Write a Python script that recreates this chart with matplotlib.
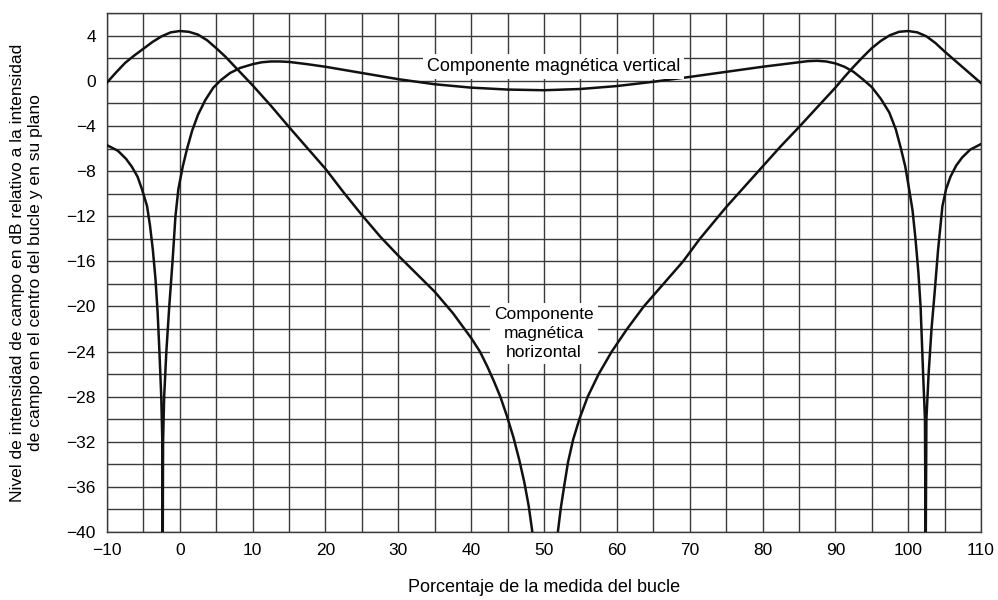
import numpy as np
import matplotlib
matplotlib.use("Agg")
import matplotlib.pyplot as plt

plt.rcParams['font.family'] = ['Liberation Sans', 'DejaVu Sans']

# horizontal magnetic component (dB) vs % of loop size, left lobe
horiz_x = [-10, -8.75, -7.5, -6.25, -5, -3.75, -2.5, -1.25, 0, 1.25, 2.5, 3.75, 5, 6.25,
           7.5, 8.75, 10, 12.5, 15, 17.5, 20, 22.5, 25, 27.5, 30, 32.5, 35, 37.5, 40,
           41.2, 42.2, 43.1, 44, 44.9, 45.8, 46.6, 47.3, 47.9, 48.4, 48.6]
horiz_y = [-0.15, 0.75, 1.6, 2.25, 2.85, 3.45, 3.95, 4.3, 4.42, 4.35, 4.1, 3.6, 2.9, 2.15,
           1.3, 0.45, -0.4, -2.2, -4.1, -5.95, -7.8, -9.9, -11.9, -13.8, -15.5, -17.1, -18.7, -20.6, -22.8,
           -24, -25.3, -26.6, -28, -29.7, -31.6, -33.6, -35.6, -37.7, -40, -42]
# horizontal magnetic component, right lobe
horiz_x2 = [51.7, 51.9, 52.3, 52.8, 53.3, 54.0, 54.9, 56.0, 57.5, 59.3, 61.4, 63.7, 66.4,
            69.1, 71.4, 75, 77.5, 80, 82.5, 85, 87.5, 90, 91.25, 92.5, 93.75, 95, 96.25,
            97.5, 98.75, 100, 101.25, 102.5, 103.75, 105, 106.25, 107.5, 108.75, 110]
horiz_y2 = [-42, -40, -37.9, -35.8, -33.8, -31.8, -29.9, -28, -26, -24, -22, -20, -18,
            -16, -14, -11.2, -9.4, -7.6, -5.8, -4.1, -2.35, -0.6, 0.35, 1.25, 2.1, 2.9, 3.55,
            4.05, 4.35, 4.42, 4.3, 3.95, 3.35, 2.6, 1.9, 1.2, 0.5, -0.2]

# vertical magnetic component (dB)
vert_x = [-10, -8.5, -7.4, -6.6, -5.8, -5.2, -4.5, -4.1, -3.7, -3.35, -3.05, -2.8, -2.55, -2.4, -2.35,
          -2.3, -2.15, -1.85, -1.45, -1.0, -0.6, -0.2, 0.4, 1.0, 1.7, 2.5, 3.5, 4.6, 5.7,
          6.9, 8.3, 10, 11.25, 12.5, 13.75, 15, 17.5, 20, 25, 30, 35, 40, 45, 50, 55, 60,
          65, 70, 75, 80, 82.5, 85, 86.25, 87.5, 88.75, 90, 91.25, 92.5, 93.75, 95, 96.25,
          97.4, 98.3, 99.0, 99.6, 100.1, 100.6, 101.0, 101.4, 101.7, 102.05, 102.3, 102.4,
          102.5, 102.8, 103.2, 103.6, 104.1, 104.7, 105.2, 105.8, 106.6, 107.4, 108.5, 110]
vert_y = [-5.7, -6.2, -6.9, -7.6, -8.5, -9.6, -11.1, -12.8, -15.0, -17.5, -20.5, -24, -28, -32, -42,
          -32, -28, -24, -20, -16, -12, -9.6, -7.6, -6.0, -4.4, -3.0, -1.7, -0.6, 0.1,
          0.7, 1.15, 1.48, 1.65, 1.72, 1.72, 1.68, 1.48, 1.25, 0.7, 0.15, -0.3, -0.6, -0.77, -0.83, -0.72, -0.46,
          -0.08, 0.35, 0.8, 1.25, 1.45, 1.65, 1.75, 1.78, 1.72, 1.55, 1.25, 0.8, 0.15, -0.55, -1.6,
          -2.8, -4.3, -6.0, -7.6, -9.5, -11.5, -14, -17, -20, -26, -30, -42,
          -30, -26, -22, -19, -15, -11.1, -9.6, -8.5, -7.5, -6.8, -6.1, -5.6]

x_ticks = list(range(-10, 111, 10))
y_ticks = list(range(-40, 5, 4))

fig = plt.figure(figsize=(9.98, 6.0), dpi=100)
ax = fig.add_axes([0.1072, 0.1133, 0.8758, 0.8647])

grid_col = '#3a3a3a'
for gx in np.arange(-10, 111, 5):
    ax.axvline(gx, color=grid_col, lw=1.0, zorder=1)
for gy in np.arange(-40, 7, 2):
    ax.axhline(gy, color=grid_col, lw=1.0, zorder=1)

ax.plot(horiz_x, horiz_y, color='#111111', lw=1.8, zorder=3)
ax.plot(horiz_x2, horiz_y2, color='#111111', lw=1.8, zorder=3)
ax.plot(vert_x, vert_y, color='#111111', lw=1.8, zorder=3)

ax.set_xlim(-10, 110)
ax.set_ylim(-40, 6)
ax.set_xticks(x_ticks)
ax.set_yticks(y_ticks)
ax.tick_params(length=0, labelsize=12.5, pad=8)
for s in ax.spines.values():
    s.set_color(grid_col)
    s.set_linewidth(1.0)

ax.text(51.3, 1.25, 'Componente magnética vertical', ha='center', va='center',
        fontsize=13, zorder=4,
        bbox=dict(facecolor='white', edgecolor='none', pad=3))
ax.text(50, -22.4, 'Componente\nmagnética\nhorizontal', ha='center', va='center',
        fontsize=12.5, linespacing=1.3, zorder=4,
        bbox=dict(facecolor='white', edgecolor='none', pad=3))

ax.set_xlabel('Porcentaje de la medida del bucle', fontsize=13, labelpad=15)
ax.set_ylabel('Nivel de intensidad de campo en dB relativo a la intensidad\n'
              'de campo en el centro del bucle y en su plano',
              fontsize=12.6, labelpad=17, linespacing=1.25)

fig.savefig('out.png', dpi=100)
